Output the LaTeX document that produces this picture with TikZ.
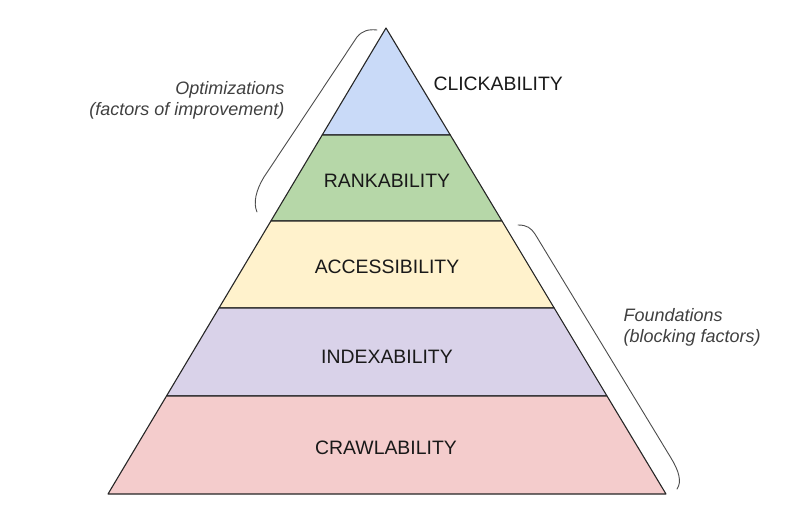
\documentclass[tikz,border=0pt]{standalone}
\usepackage{fontspec}
\setmainfont{Liberation Sans}
\usetikzlibrary{positioning}
\definecolor{clickblue}{HTML}{C9DAF8}
\definecolor{rankgreen}{HTML}{B6D7A8}
\definecolor{accessyellow}{HTML}{FFF2CC}
\definecolor{indexpurple}{HTML}{D9D2E9}
\definecolor{crawlpink}{HTML}{F4CCCC}
\tikzset{
  layer/.style={draw=black!85, line width=1.1pt, line join=round},
  layertext/.style={font=\fontsize{19.4}{23}\selectfont, text=black!90},
  sidetext/.style={font=\itshape\fontsize{18}{21}\selectfont, text=black!75},
  bracket/.style={draw=black!70, line width=0.9pt, line cap=round}
}
\begin{document}
\begin{tikzpicture}[x=1pt,y=-1pt]
        \useasboundingbox (0,0) rectangle (798,511);
        % define point
        \coordinate (apex) at (386,28);
        \coordinate (L1) at (322.2,135);
        \coordinate (R1) at (450.3,135);
        \coordinate (L2) at (270.9,221);
        \coordinate (R2) at (502,221);
        \coordinate (L3) at (219,308);
        \coordinate (R3) at (554.2,308);
        \coordinate (L4) at (166.5,396);
        \coordinate (R4) at (607,396);
        \coordinate (BL) at (108,494);
        \coordinate (BR) at (666,494);
        % layers
        \filldraw[layer, fill=clickblue] (apex) -- (L1) -- (R1) -- cycle;
        \filldraw[layer, fill=rankgreen] (L1) -- (L2) -- (R2) -- (R1) -- cycle;
        \filldraw[layer, fill=accessyellow] (L2) -- (L3) -- (R3) -- (R2) -- cycle;
        \filldraw[layer, fill=indexpurple] (L3) -- (L4) -- (R4) -- (R3) -- cycle;
        \filldraw[layer, fill=crawlpink] (L4) -- (BL) -- (BR) -- (R4) -- cycle;
        % labels
        \node[layertext, anchor=west] (click) at (430,84) {CLICKABILITY};
        \node[layertext] (rank) at (387,181) {RANKABILITY};
        \node[layertext] (access) at (387,267) {ACCESSIBILITY};
        \node[layertext] (index) at (387,357) {INDEXABILITY};
        \node[layertext] (crawl) at (386,448) {CRAWLABILITY};
        % brackets
        \draw[bracket] (377,30) .. controls (368,29) and (362,31) .. (357,37)
            -- (264,177) .. controls (256,190) and (253,203) .. (257,212);
        \draw[bracket] (518,225) .. controls (527,225) and (531,228) .. (535,234)
            -- (671,458) .. controls (679,471) and (682,482) .. (677,489);
        \node[sidetext, align=right, anchor=east] (optim) at (288,100.5) {Optimizations\\(factors of improvement)};
        \node[sidetext, align=left, anchor=west] (found) at (620,327.5) {Foundations\\(blocking factors)};
    \end{tikzpicture}
\end{document}
